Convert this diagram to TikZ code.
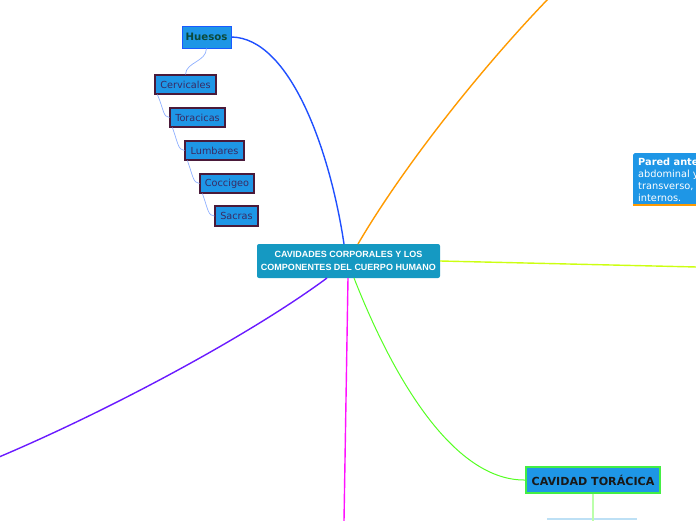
\documentclass[tikz,border=0pt]{standalone}
\usepackage{fontspec}
\setmainfont{DejaVu Sans}
\newfontfamily\arialfont{Liberation Sans}
\definecolor{nodefill}{HTML}{1E96E6}
\definecolor{centerfill}{HTML}{1599C2}
\definecolor{huesosborder}{HTML}{1A5AFF}
\definecolor{huesostext}{HTML}{0B4A3A}
\definecolor{childborder}{HTML}{4A1A3A}
\definecolor{childtext}{HTML}{3A2A62}
\definecolor{childline}{HTML}{8FB0FF}
\definecolor{cblue}{HTML}{1F4FFF}
\definecolor{corange}{HTML}{FF9A00}
\definecolor{cyellow}{HTML}{CCFF11}
\definecolor{cpurple}{HTML}{6A1AFF}
\definecolor{cmagenta}{HTML}{FF11FF}
\definecolor{cgreen}{HTML}{55FF22}
\definecolor{toraborder}{HTML}{44EE44}
\definecolor{lightblueline}{HTML}{BDE0F5}
\definecolor{lightgreenline}{HTML}{BBFFAA}
\begin{document}
\begin{tikzpicture}[x=1pt,y=-1pt,
  childbox/.style={draw=childborder, line width=1.2pt, fill=nodefill, text=childtext,
    font=\fontsize{9.7}{11}\selectfont, inner sep=0pt, minimum height=19pt},
  childlink/.style={draw=childline, line width=0.7pt},
  mainlink/.style={line width=1.4pt},
]
\useasboundingbox (0,0) rectangle (696,520);

% nodes
\node[fill=centerfill, rounded corners=2pt, minimum width=183pt, minimum height=34pt,
  inner sep=0pt, text=white, align=center,
  font=\arialfont\bfseries\fontsize{9}{13.5}\selectfont] (center) at (348.5,261)
  {CAVIDADES CORPORALES Y LOS\\COMPONENTES DEL CUERPO HUMANO};

\node[draw=huesosborder, line width=1pt, fill=nodefill, text=huesostext,
  font=\bfseries\fontsize{10.2}{12}\selectfont, minimum width=49pt, minimum height=22pt,
  inner sep=0pt] (huesos) at (206.5,37) {Huesos};

\node[childbox, minimum width=61pt] (cerv) at (185.5,84.5) {Cervicales};
\node[childbox, minimum width=55pt] (tora) at (197.5,117.5) {Toracicas};
\node[childbox, minimum width=59pt] (lumb) at (214.5,150.5) {Lumbares};
\node[childbox, minimum width=54pt] (cocc) at (227,183.5) {Coccigeo};
\node[childbox, minimum width=43pt, minimum height=20pt] (sacr) at (236.5,216) {Sacras};

\node[draw=toraborder, line width=1.2pt, fill=nodefill, text=black!90,
  font=\bfseries\fontsize{11.1}{12}\selectfont, minimum width=134pt, minimum height=26pt,
  inner sep=0pt] (torac) at (593,480) {CAVIDAD TORÁCICA};

\node[fill=nodefill, anchor=north west, inner sep=0pt, minimum width=90pt, minimum height=52pt,
  rounded corners=1.5pt] (pared) at (633,153) {};
\node[anchor=north west, text=white, align=left, inner sep=0pt,
  font=\fontsize{9.8}{12}\selectfont] (paredtext) at (638,157.5)
  {\textbf{Pared ante}\\abdominal y\\transverso,\\internos.};
\coordinate (paredbl) at (633,205);
\coordinate (paredbr) at (720,205);
\draw[corange, line width=1.6pt] (paredbl) -- (paredbr);

% free ends
\coordinate (orangeend) at (548,-1);
\coordinate (yellowend) at (697,267);
\coordinate (purpleend) at (-1,457);
\coordinate (magentaend) at (344,521);
\coordinate (bottomnode) at (593,521);
\coordinate (bl) at (547,519);
\coordinate (br) at (637,519);

% main connectors
\draw[mainlink, cblue] (huesos.east) .. controls (290,38) and (330,150) .. (344,244);
\draw[mainlink, corange] (358,244) .. controls (400,172) and (475,75) .. (orangeend);
\draw[mainlink, cyellow] (center.east) -- (yellowend);
\draw[mainlink, cpurple] (327,278) .. controls (250,335) and (110,410) .. (purpleend);
\draw[mainlink, cmagenta] (348,278) -- (magentaend);
\draw[line width=1pt, cgreen] (354,278) .. controls (400,395) and (460,481) .. (torac.west);

% bottom partial node
\draw[lightblueline, line width=1.2pt] (bl) -- (br);
\draw[lightgreenline, line width=1.5pt] (torac.south) -- (bottomnode);

% child connectors
\draw[childlink] (huesos.south) .. controls (206,62) and (186,62) .. (cerv.north);
\draw[childlink] ([xshift=3pt]cerv.south west) .. controls (164,110) and (163,117) .. (tora.west);
\draw[childlink] ([xshift=3pt]tora.south west) .. controls (178,143) and (178,150) .. (lumb.west);
\draw[childlink] ([xshift=3pt]lumb.south west) .. controls (193,176) and (193,183) .. (cocc.west);
\draw[childlink] ([xshift=3pt]cocc.south west) .. controls (208,209) and (208,216) .. (sacr.west);
\end{tikzpicture}
\end{document}
